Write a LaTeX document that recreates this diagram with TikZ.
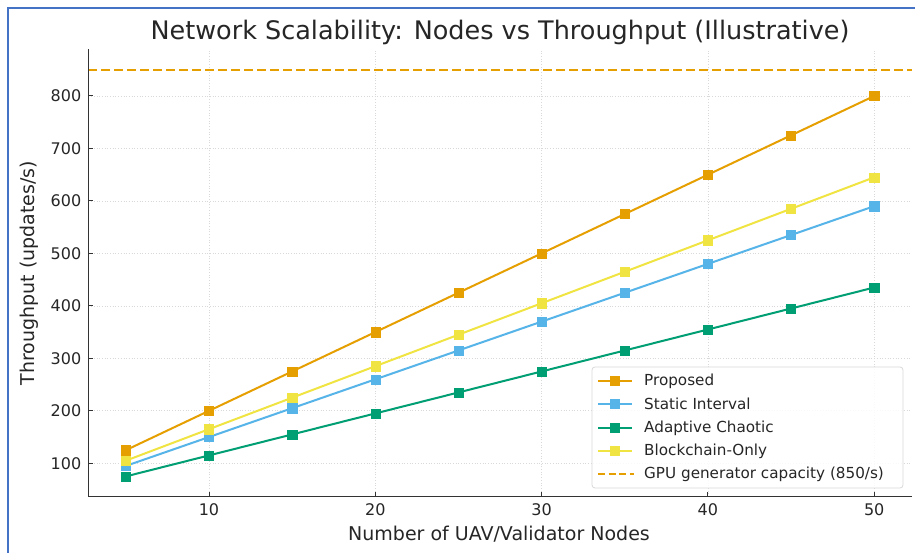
\documentclass[tikz,border=0pt]{standalone}
\usepackage{fontspec}
\setmainfont{DejaVu Sans}
\usetikzlibrary{plotmarks}
\definecolor{cprop}{HTML}{E69F00}
\definecolor{cstat}{HTML}{56B4E9}
\definecolor{cadap}{HTML}{009E73}
\definecolor{cblock}{HTML}{F0E442}
\definecolor{cframe}{HTML}{4472C4}
\definecolor{ctext}{HTML}{262626}
\definecolor{cspine}{HTML}{333333}
\definecolor{cgrid}{HTML}{D9D9D9}
\tikzset{
  series/.style={line width=2pt, mark=square*, mark size=4.6pt, mark options={solid, fill=#1, draw=#1, line width=0.4pt}, color=#1},
  gridline/.style={cgrid, line width=0.7pt, dotted},
  spine/.style={cspine, line width=1.3pt},
  ticklbl/.style={text=ctext, font=\fontsize{16}{19}\selectfont, inner sep=0pt},
  axlbl/.style={text=ctext, font=\fontsize{19}{23}\selectfont, inner sep=0pt},
  legtxt/.style={text=ctext, font=\fontsize{15.2}{18}\selectfont, inner sep=0pt, anchor=west},
  capline/.style={cprop, line width=2.3pt, dash pattern=on 9pt off 4pt},
}
\begin{document}
\begin{tikzpicture}[x=1pt,y=1pt]
\useasboundingbox (0,0) rectangle (915,553);
\fill[white] (0,0) rectangle (915,553);
% frame lines
\draw[cframe, line width=1.8pt] (8,0) -- (8,545) -- (915,545);
% title
\node[text=ctext, font=\fontsize{25.5}{30}\selectfont, inner sep=0pt] (title) at (500,521) {Network Scalability: Nodes vs Throughput (Illustrative)};
% data scope
\begin{scope}[shift={(42.7,37.24)}, x=16.63pt, y=0.5247pt]
  % grid
  \foreach \gx in {10,20,30,40,50} \draw[gridline] (\gx,36.25) -- (\gx,888.75);
  \foreach \gy in {100,200,...,800} \draw[gridline] (2.75,\gy) -- (52.25,\gy);
  % capacity line
  \draw[capline] (2.75,850) -- (52.25,850);
  % series
  \draw[series=cprop] plot coordinates {(5,125) (10,200) (15,275) (20,350) (25,425) (30,500) (35,575) (40,650) (45,725) (50,800)};
  \draw[series=cstat] plot coordinates {(5,95) (10,150) (15,205) (20,260) (25,315) (30,370) (35,425) (40,480) (45,535) (50,590)};
  \draw[series=cadap] plot coordinates {(5,75) (10,115) (15,155) (20,195) (25,235) (30,275) (35,315) (40,355) (45,395) (50,435)};
  \draw[series=cblock] plot coordinates {(5,105) (10,165) (15,225) (20,285) (25,345) (30,405) (35,465) (40,525) (45,585) (50,645)};
  % spines
  \draw[spine] (2.75,888.75) -- (2.75,36.25) -- (52.25,36.25);
  % ticks
  \foreach \gx in {10,20,30,40,50} {
    \draw[spine, line width=1pt] (\gx,36.25) -- ++(0,4.5pt);
    \node[ticklbl] (xt\gx) at ([yshift=-13pt]\gx,36.25) {\gx};
  }
  \foreach \gy in {100,200,...,800} {
    \draw[spine, line width=1pt] (2.75,\gy) -- ++(4.5pt,0);
    \node[ticklbl, anchor=east] (yt\gy) at ([xshift=-7pt]2.75,\gy) {\gy};
  }
\end{scope}
% axis labels
\node[axlbl] (xlabel) at (499,19) {Number of UAV/Validator Nodes};
\node[axlbl, rotate=90] (ylabel) at (29,280) {Throughput (updates/s)};
% legend
\draw[rounded corners=3pt, draw=cgrid, fill=white, fill opacity=0.85, line width=0.8pt] (592,65) rectangle (903,186);
\foreach \ly/\lc/\lt [count=\i] in {172/cprop/Proposed, 149/cstat/Static Interval, 125/cadap/Adaptive Chaotic, 102/cblock/Blockchain-Only} {
  \draw[\lc, line width=2pt] (598,\ly) -- (632,\ly);
  \path plot[mark=square*, mark size=4.6pt, mark options={fill=\lc, draw=\lc, line width=0.4pt}] coordinates {(615,\ly)};
  \node[legtxt] (leg\i) at (644,\ly) {\lt};
}
\draw[cprop, line width=2.3pt, dash pattern=on 7pt off 3.5pt] (598,79) -- (634,79);
\node[legtxt] (leg5) at (644,79) {GPU generator capacity (850/s)};
\end{tikzpicture}
\end{document}
